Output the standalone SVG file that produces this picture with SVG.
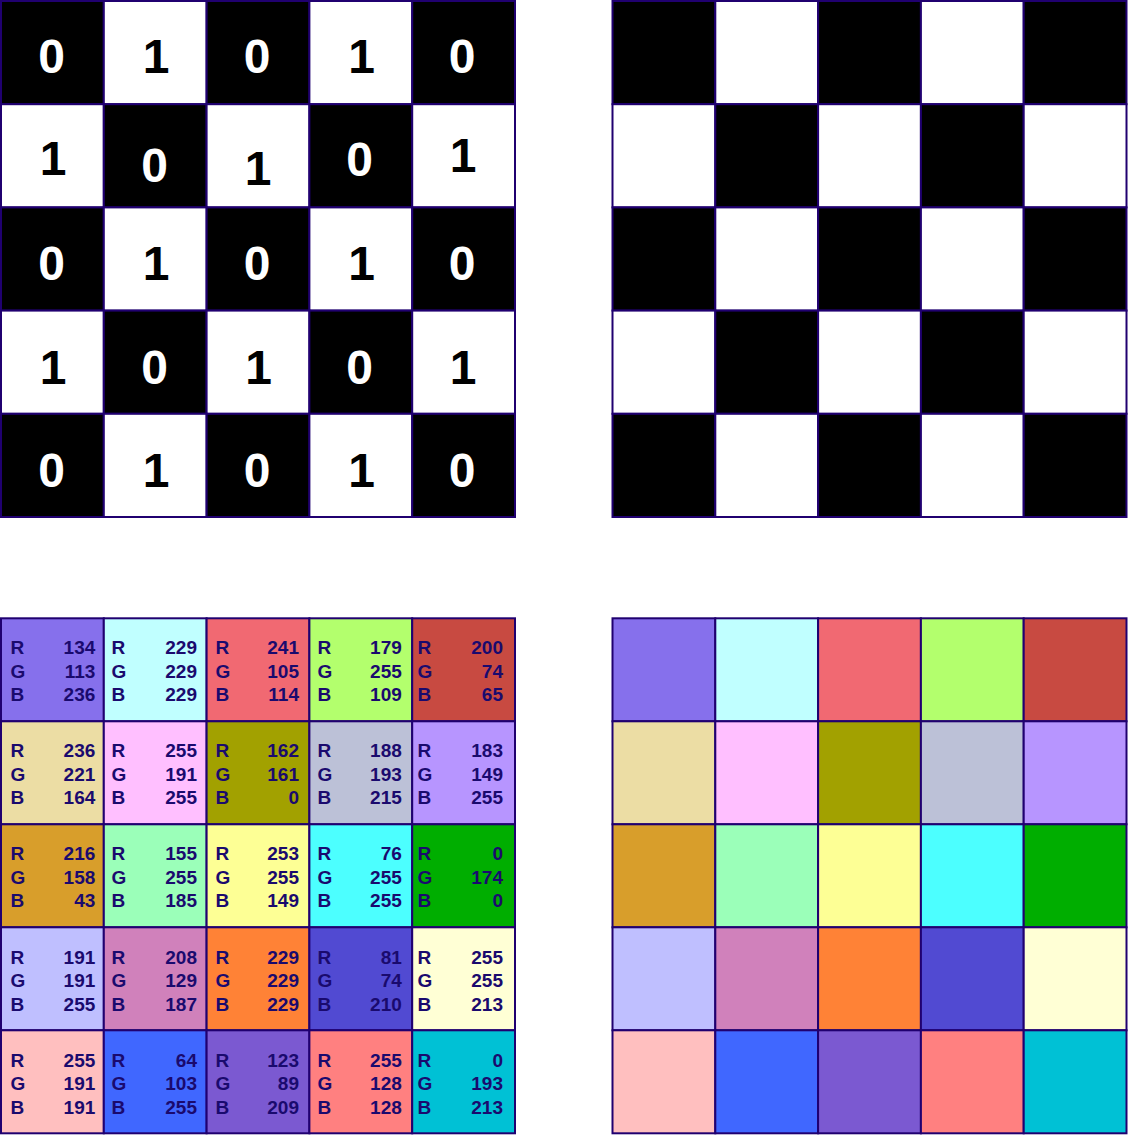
<svg xmlns="http://www.w3.org/2000/svg" width="1128" height="1136" viewBox="0 0 1128 1136">
<style>
rect{stroke:#200070;stroke-width:2}
.k{fill:#000}
.w{fill:#fff}
.d{font-family:"Liberation Sans",Arial,sans-serif;font-weight:bold;font-size:48px;text-anchor:middle}
.dw{fill:#fff}
.db{fill:#000}
.t{font-family:"Liberation Sans",Arial,sans-serif;font-weight:bold;font-size:19px;fill:#1a0a6e}
.n{text-anchor:end}
</style>
<rect x="0" y="0" width="1128" height="1136" style="fill:#fff;stroke:none"/>
<g id="binary-grid">
<g id="b00"><rect class="k" x="1" y="1" width="102.8" height="103.2"/><text class="d dw" x="51.5" y="73">0</text></g>
<g id="b01"><rect class="w" x="103.8" y="1" width="102.8" height="103.2"/><text class="d db" x="156" y="73">1</text></g>
<g id="b02"><rect class="k" x="206.6" y="1" width="102.8" height="103.2"/><text class="d dw" x="257" y="73">0</text></g>
<g id="b03"><rect class="w" x="309.4" y="1" width="102.8" height="103.2"/><text class="d db" x="361.5" y="73">1</text></g>
<g id="b04"><rect class="k" x="412.2" y="1" width="102.8" height="103.2"/><text class="d dw" x="462" y="73">0</text></g>

<g id="b10"><rect class="w" x="1" y="104.2" width="102.8" height="103.2"/><text class="d db" x="53" y="175">1</text></g>
<g id="b11"><rect class="k" x="103.8" y="104.2" width="102.8" height="103.2"/><text class="d dw" x="154.5" y="182">0</text></g>
<g id="b12"><rect class="w" x="206.6" y="104.2" width="102.8" height="103.2"/><text class="d db" x="258" y="185">1</text></g>
<g id="b13"><rect class="k" x="309.4" y="104.2" width="102.8" height="103.2"/><text class="d dw" x="359.5" y="176">0</text></g>
<g id="b14"><rect class="w" x="412.2" y="104.2" width="102.8" height="103.2"/><text class="d db" x="463" y="172">1</text></g>

<g id="b20"><rect class="k" x="1" y="207.4" width="102.8" height="103.2"/><text class="d dw" x="51.5" y="280">0</text></g>
<g id="b21"><rect class="w" x="103.8" y="207.4" width="102.8" height="103.2"/><text class="d db" x="156" y="280">1</text></g>
<g id="b22"><rect class="k" x="206.6" y="207.4" width="102.8" height="103.2"/><text class="d dw" x="257" y="280">0</text></g>
<g id="b23"><rect class="w" x="309.4" y="207.4" width="102.8" height="103.2"/><text class="d db" x="361.5" y="280">1</text></g>
<g id="b24"><rect class="k" x="412.2" y="207.4" width="102.8" height="103.2"/><text class="d dw" x="462" y="280">0</text></g>

<g id="b30"><rect class="w" x="1" y="310.6" width="102.8" height="103.2"/><text class="d db" x="53" y="384">1</text></g>
<g id="b31"><rect class="k" x="103.8" y="310.6" width="102.8" height="103.2"/><text class="d dw" x="154.5" y="384">0</text></g>
<g id="b32"><rect class="w" x="206.6" y="310.6" width="102.8" height="103.2"/><text class="d db" x="258.5" y="384">1</text></g>
<g id="b33"><rect class="k" x="309.4" y="310.6" width="102.8" height="103.2"/><text class="d dw" x="359.5" y="384">0</text></g>
<g id="b34"><rect class="w" x="412.2" y="310.6" width="102.8" height="103.2"/><text class="d db" x="463" y="384">1</text></g>

<g id="b40"><rect class="k" x="1" y="413.8" width="102.8" height="103.2"/><text class="d dw" x="51.5" y="487">0</text></g>
<g id="b41"><rect class="w" x="103.8" y="413.8" width="102.8" height="103.2"/><text class="d db" x="156" y="487">1</text></g>
<g id="b42"><rect class="k" x="206.6" y="413.8" width="102.8" height="103.2"/><text class="d dw" x="257" y="487">0</text></g>
<g id="b43"><rect class="w" x="309.4" y="413.8" width="102.8" height="103.2"/><text class="d db" x="361.5" y="487">1</text></g>
<g id="b44"><rect class="k" x="412.2" y="413.8" width="102.8" height="103.2"/><text class="d dw" x="462" y="487">0</text></g>
</g>

<g id="checker-grid">
<rect class="k" x="612.5" y="1" width="102.8" height="103.2"/>
<rect class="w" x="715.3" y="1" width="102.8" height="103.2"/>
<rect class="k" x="818.1" y="1" width="102.8" height="103.2"/>
<rect class="w" x="920.9" y="1" width="102.8" height="103.2"/>
<rect class="k" x="1023.7" y="1" width="102.8" height="103.2"/>
<rect class="w" x="612.5" y="104.2" width="102.8" height="103.2"/>
<rect class="k" x="715.3" y="104.2" width="102.8" height="103.2"/>
<rect class="w" x="818.1" y="104.2" width="102.8" height="103.2"/>
<rect class="k" x="920.9" y="104.2" width="102.8" height="103.2"/>
<rect class="w" x="1023.7" y="104.2" width="102.8" height="103.2"/>
<rect class="k" x="612.5" y="207.4" width="102.8" height="103.2"/>
<rect class="w" x="715.3" y="207.4" width="102.8" height="103.2"/>
<rect class="k" x="818.1" y="207.4" width="102.8" height="103.2"/>
<rect class="w" x="920.9" y="207.4" width="102.8" height="103.2"/>
<rect class="k" x="1023.7" y="207.4" width="102.8" height="103.2"/>
<rect class="w" x="612.5" y="310.6" width="102.8" height="103.2"/>
<rect class="k" x="715.3" y="310.6" width="102.8" height="103.2"/>
<rect class="w" x="818.1" y="310.6" width="102.8" height="103.2"/>
<rect class="k" x="920.9" y="310.6" width="102.8" height="103.2"/>
<rect class="w" x="1023.7" y="310.6" width="102.8" height="103.2"/>
<rect class="k" x="612.5" y="413.8" width="102.8" height="103.2"/>
<rect class="w" x="715.3" y="413.8" width="102.8" height="103.2"/>
<rect class="k" x="818.1" y="413.8" width="102.8" height="103.2"/>
<rect class="w" x="920.9" y="413.8" width="102.8" height="103.2"/>
<rect class="k" x="1023.7" y="413.8" width="102.8" height="103.2"/>
</g>

<g id="rgb-grid">
<rect x="1" y="618.3" width="102.8" height="103" fill="#8670ec"/>
<rect x="103.8" y="618.3" width="102.8" height="103" fill="#c0ffff"/>
<rect x="206.6" y="618.3" width="102.8" height="103" fill="#f16972"/>
<rect x="309.4" y="618.3" width="102.8" height="103" fill="#b3ff6d"/>
<rect x="412.2" y="618.3" width="102.8" height="103" fill="#c84a41"/>
<rect x="1" y="721.3" width="102.8" height="103" fill="#ecdda4"/>
<rect x="103.8" y="721.3" width="102.8" height="103" fill="#ffbfff"/>
<rect x="206.6" y="721.3" width="102.8" height="103" fill="#a2a100"/>
<rect x="309.4" y="721.3" width="102.8" height="103" fill="#bcc1d7"/>
<rect x="412.2" y="721.3" width="102.8" height="103" fill="#b795ff"/>
<rect x="1" y="824.3" width="102.8" height="103" fill="#d89e2b"/>
<rect x="103.8" y="824.3" width="102.8" height="103" fill="#9bffb9"/>
<rect x="206.6" y="824.3" width="102.8" height="103" fill="#fdff95"/>
<rect x="309.4" y="824.3" width="102.8" height="103" fill="#4cffff"/>
<rect x="412.2" y="824.3" width="102.8" height="103" fill="#00ae00"/>
<rect x="1" y="927.3" width="102.8" height="103" fill="#bfbfff"/>
<rect x="103.8" y="927.3" width="102.8" height="103" fill="#d081bb"/>
<rect x="206.6" y="927.3" width="102.8" height="103" fill="#ff8236"/>
<rect x="309.4" y="927.3" width="102.8" height="103" fill="#514ad2"/>
<rect x="412.2" y="927.3" width="102.8" height="103" fill="#ffffd5"/>
<rect x="1" y="1030.3" width="102.8" height="103" fill="#ffbfbf"/>
<rect x="103.8" y="1030.3" width="102.8" height="103" fill="#4067ff"/>
<rect x="206.6" y="1030.3" width="102.8" height="103" fill="#7b59d1"/>
<rect x="309.4" y="1030.3" width="102.8" height="103" fill="#ff8080"/>
<rect x="412.2" y="1030.3" width="102.8" height="103" fill="#00c1d5"/>

<g class="t">
<text x="10.6" y="654">R</text><text x="10.6" y="677.5">G</text><text x="10.6" y="701">B</text>
<text x="111.6" y="654">R</text><text x="111.6" y="677.5">G</text><text x="111.6" y="701">B</text>
<text x="215.6" y="654">R</text><text x="215.6" y="677.5">G</text><text x="215.6" y="701">B</text>
<text x="317.6" y="654">R</text><text x="317.6" y="677.5">G</text><text x="317.6" y="701">B</text>
<text x="417.6" y="654">R</text><text x="417.6" y="677.5">G</text><text x="417.6" y="701">B</text>
<text class="n" x="95.3" y="654">134</text><text class="n" x="95.3" y="677.5">113</text><text class="n" x="95.3" y="701">236</text>
<text class="n" x="197" y="654">229</text><text class="n" x="197" y="677.5">229</text><text class="n" x="197" y="701">229</text>
<text class="n" x="299" y="654">241</text><text class="n" x="299" y="677.5">105</text><text class="n" x="299" y="701">114</text>
<text class="n" x="401.8" y="654">179</text><text class="n" x="401.8" y="677.5">255</text><text class="n" x="401.8" y="701">109</text>
<text class="n" x="503" y="654">200</text><text class="n" x="503" y="677.5">74</text><text class="n" x="503" y="701">65</text>

<text x="10.6" y="757.2">R</text><text x="10.6" y="780.7">G</text><text x="10.6" y="804.2">B</text>
<text x="111.6" y="757.2">R</text><text x="111.6" y="780.7">G</text><text x="111.6" y="804.2">B</text>
<text x="215.6" y="757.2">R</text><text x="215.6" y="780.7">G</text><text x="215.6" y="804.2">B</text>
<text x="317.6" y="757.2">R</text><text x="317.6" y="780.7">G</text><text x="317.6" y="804.2">B</text>
<text x="417.6" y="757.2">R</text><text x="417.6" y="780.7">G</text><text x="417.6" y="804.2">B</text>
<text class="n" x="95.3" y="757.2">236</text><text class="n" x="95.3" y="780.7">221</text><text class="n" x="95.3" y="804.2">164</text>
<text class="n" x="197" y="757.2">255</text><text class="n" x="197" y="780.7">191</text><text class="n" x="197" y="804.2">255</text>
<text class="n" x="299" y="757.2">162</text><text class="n" x="299" y="780.7">161</text><text class="n" x="299" y="804.2">0</text>
<text class="n" x="401.8" y="757.2">188</text><text class="n" x="401.8" y="780.7">193</text><text class="n" x="401.8" y="804.2">215</text>
<text class="n" x="503" y="757.2">183</text><text class="n" x="503" y="780.7">149</text><text class="n" x="503" y="804.2">255</text>

<text x="10.6" y="860.4">R</text><text x="10.6" y="883.9">G</text><text x="10.6" y="907.4">B</text>
<text x="111.6" y="860.4">R</text><text x="111.6" y="883.9">G</text><text x="111.6" y="907.4">B</text>
<text x="215.6" y="860.4">R</text><text x="215.6" y="883.9">G</text><text x="215.6" y="907.4">B</text>
<text x="317.6" y="860.4">R</text><text x="317.6" y="883.9">G</text><text x="317.6" y="907.4">B</text>
<text x="417.6" y="860.4">R</text><text x="417.6" y="883.9">G</text><text x="417.6" y="907.4">B</text>
<text class="n" x="95.3" y="860.4">216</text><text class="n" x="95.3" y="883.9">158</text><text class="n" x="95.3" y="907.4">43</text>
<text class="n" x="197" y="860.4">155</text><text class="n" x="197" y="883.9">255</text><text class="n" x="197" y="907.4">185</text>
<text class="n" x="299" y="860.4">253</text><text class="n" x="299" y="883.9">255</text><text class="n" x="299" y="907.4">149</text>
<text class="n" x="401.8" y="860.4">76</text><text class="n" x="401.8" y="883.9">255</text><text class="n" x="401.8" y="907.4">255</text>
<text class="n" x="503" y="860.4">0</text><text class="n" x="503" y="883.9">174</text><text class="n" x="503" y="907.4">0</text>

<text x="10.6" y="963.6">R</text><text x="10.6" y="987.1">G</text><text x="10.6" y="1010.6">B</text>
<text x="111.6" y="963.6">R</text><text x="111.6" y="987.1">G</text><text x="111.6" y="1010.6">B</text>
<text x="215.6" y="963.6">R</text><text x="215.6" y="987.1">G</text><text x="215.6" y="1010.6">B</text>
<text x="317.6" y="963.6">R</text><text x="317.6" y="987.1">G</text><text x="317.6" y="1010.6">B</text>
<text x="417.6" y="963.6">R</text><text x="417.6" y="987.1">G</text><text x="417.6" y="1010.6">B</text>
<text class="n" x="95.3" y="963.6">191</text><text class="n" x="95.3" y="987.1">191</text><text class="n" x="95.3" y="1010.6">255</text>
<text class="n" x="197" y="963.6">208</text><text class="n" x="197" y="987.1">129</text><text class="n" x="197" y="1010.6">187</text>
<text class="n" x="299" y="963.6">229</text><text class="n" x="299" y="987.1">229</text><text class="n" x="299" y="1010.6">229</text>
<text class="n" x="401.8" y="963.6">81</text><text class="n" x="401.8" y="987.1">74</text><text class="n" x="401.8" y="1010.6">210</text>
<text class="n" x="503" y="963.6">255</text><text class="n" x="503" y="987.1">255</text><text class="n" x="503" y="1010.6">213</text>

<text x="10.6" y="1066.8">R</text><text x="10.6" y="1090.3">G</text><text x="10.6" y="1113.8">B</text>
<text x="111.6" y="1066.8">R</text><text x="111.6" y="1090.3">G</text><text x="111.6" y="1113.8">B</text>
<text x="215.6" y="1066.8">R</text><text x="215.6" y="1090.3">G</text><text x="215.6" y="1113.8">B</text>
<text x="317.6" y="1066.8">R</text><text x="317.6" y="1090.3">G</text><text x="317.6" y="1113.8">B</text>
<text x="417.6" y="1066.8">R</text><text x="417.6" y="1090.3">G</text><text x="417.6" y="1113.8">B</text>
<text class="n" x="95.3" y="1066.8">255</text><text class="n" x="95.3" y="1090.3">191</text><text class="n" x="95.3" y="1113.8">191</text>
<text class="n" x="197" y="1066.8">64</text><text class="n" x="197" y="1090.3">103</text><text class="n" x="197" y="1113.8">255</text>
<text class="n" x="299" y="1066.8">123</text><text class="n" x="299" y="1090.3">89</text><text class="n" x="299" y="1113.8">209</text>
<text class="n" x="401.8" y="1066.8">255</text><text class="n" x="401.8" y="1090.3">128</text><text class="n" x="401.8" y="1113.8">128</text>
<text class="n" x="503" y="1066.8">0</text><text class="n" x="503" y="1090.3">193</text><text class="n" x="503" y="1113.8">213</text>
</g>
</g>

<g id="color-grid">
<rect x="612.5" y="618.3" width="102.8" height="103" fill="#8670ec"/>
<rect x="715.3" y="618.3" width="102.8" height="103" fill="#c0ffff"/>
<rect x="818.1" y="618.3" width="102.8" height="103" fill="#f16972"/>
<rect x="920.9" y="618.3" width="102.8" height="103" fill="#b3ff6d"/>
<rect x="1023.7" y="618.3" width="102.8" height="103" fill="#c84a41"/>
<rect x="612.5" y="721.3" width="102.8" height="103" fill="#ecdda4"/>
<rect x="715.3" y="721.3" width="102.8" height="103" fill="#ffbfff"/>
<rect x="818.1" y="721.3" width="102.8" height="103" fill="#a2a100"/>
<rect x="920.9" y="721.3" width="102.8" height="103" fill="#bcc1d7"/>
<rect x="1023.7" y="721.3" width="102.8" height="103" fill="#b795ff"/>
<rect x="612.5" y="824.3" width="102.8" height="103" fill="#d89e2b"/>
<rect x="715.3" y="824.3" width="102.8" height="103" fill="#9bffb9"/>
<rect x="818.1" y="824.3" width="102.8" height="103" fill="#fdff95"/>
<rect x="920.9" y="824.3" width="102.8" height="103" fill="#4cffff"/>
<rect x="1023.7" y="824.3" width="102.8" height="103" fill="#00ae00"/>
<rect x="612.5" y="927.3" width="102.8" height="103" fill="#bfbfff"/>
<rect x="715.3" y="927.3" width="102.8" height="103" fill="#d081bb"/>
<rect x="818.1" y="927.3" width="102.8" height="103" fill="#ff8236"/>
<rect x="920.9" y="927.3" width="102.8" height="103" fill="#514ad2"/>
<rect x="1023.7" y="927.3" width="102.8" height="103" fill="#ffffd5"/>
<rect x="612.5" y="1030.3" width="102.8" height="103" fill="#ffbfbf"/>
<rect x="715.3" y="1030.3" width="102.8" height="103" fill="#4067ff"/>
<rect x="818.1" y="1030.3" width="102.8" height="103" fill="#7b59d1"/>
<rect x="920.9" y="1030.3" width="102.8" height="103" fill="#ff8080"/>
<rect x="1023.7" y="1030.3" width="102.8" height="103" fill="#00c1d5"/>
</g>
</svg>
